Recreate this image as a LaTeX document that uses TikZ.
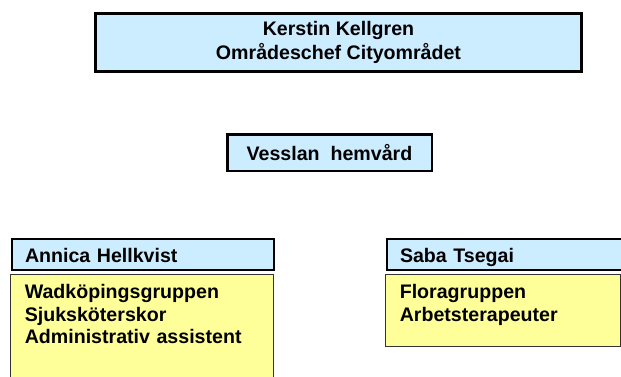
\documentclass[tikz,border=0pt]{standalone}
\usepackage{fontspec}
\setmainfont{Liberation Sans}
\usepackage{xcolor}
\usepackage{tikz}
\usetikzlibrary{shapes,positioning,shadows}
\definecolor{ljusbla}{HTML}{CCECFF}
\definecolor{ljusgul}{HTML}{FFFF99}
\tikzset{box/.style={rectangle,draw,fill=ljusbla,inner sep=0pt,font=\fontsize{19.6}{23.5}\selectfont\bfseries}}
\tikzset{skugga/.style={drop shadow={shadow xshift=1pt,shadow yshift=-1.5pt,fill=gray!60,opacity=1}}}
\tikzset{chef/.style={box,skugga,line width=3pt,minimum width=486pt,minimum height=58pt,align=center}}
\tikzset{enhet/.style={box,skugga,line width=2.5pt,minimum width=204.5pt,minimum height=36.5pt}}
\tikzset{head/.style={box,line width=2pt,anchor=north west,minimum height=31pt,inner xsep=13pt,align=left,text height=16pt,text depth=0pt}}
\tikzset{body/.style={rectangle,draw=black!80,line width=0.8pt,fill=ljusgul,anchor=north west,inner xsep=14pt,inner ysep=0pt,align=left,text height=24.1pt,font=\fontsize{19.6}{22.5}\selectfont\bfseries}}

\begin{document}
\begin{tikzpicture}[x=1pt,y=-1pt]
    \useasboundingbox (0,0) rectangle (621,376);
    \clip (0,0) rectangle (621,376);

    \node[chef] (kk) at (338.5,42.5) {Kerstin Kellgren\\Områdeschef Cityområdet};
    \node[enhet] (vh) at (329.5,152.5) {Vesslan\ \ hemvård};

    \node[head,text width=236pt] (ah) at (11,238) {Annica Hellkvist};
    \node[body,text width=235pt,text depth=110pt] (ahg) at (10.4,274.4) {Wadköpingsgruppen\\Sjuksköterskor\\Administrativ assistent};

    \node[head,text width=209pt] (st) at (386,238) {Saba Tsegai};
    \node[body,text width=207pt,text depth=47.1pt] (stg) at (385.4,274.4) {Floragruppen\\Arbetsterapeuter};
\end{tikzpicture}
\end{document}
